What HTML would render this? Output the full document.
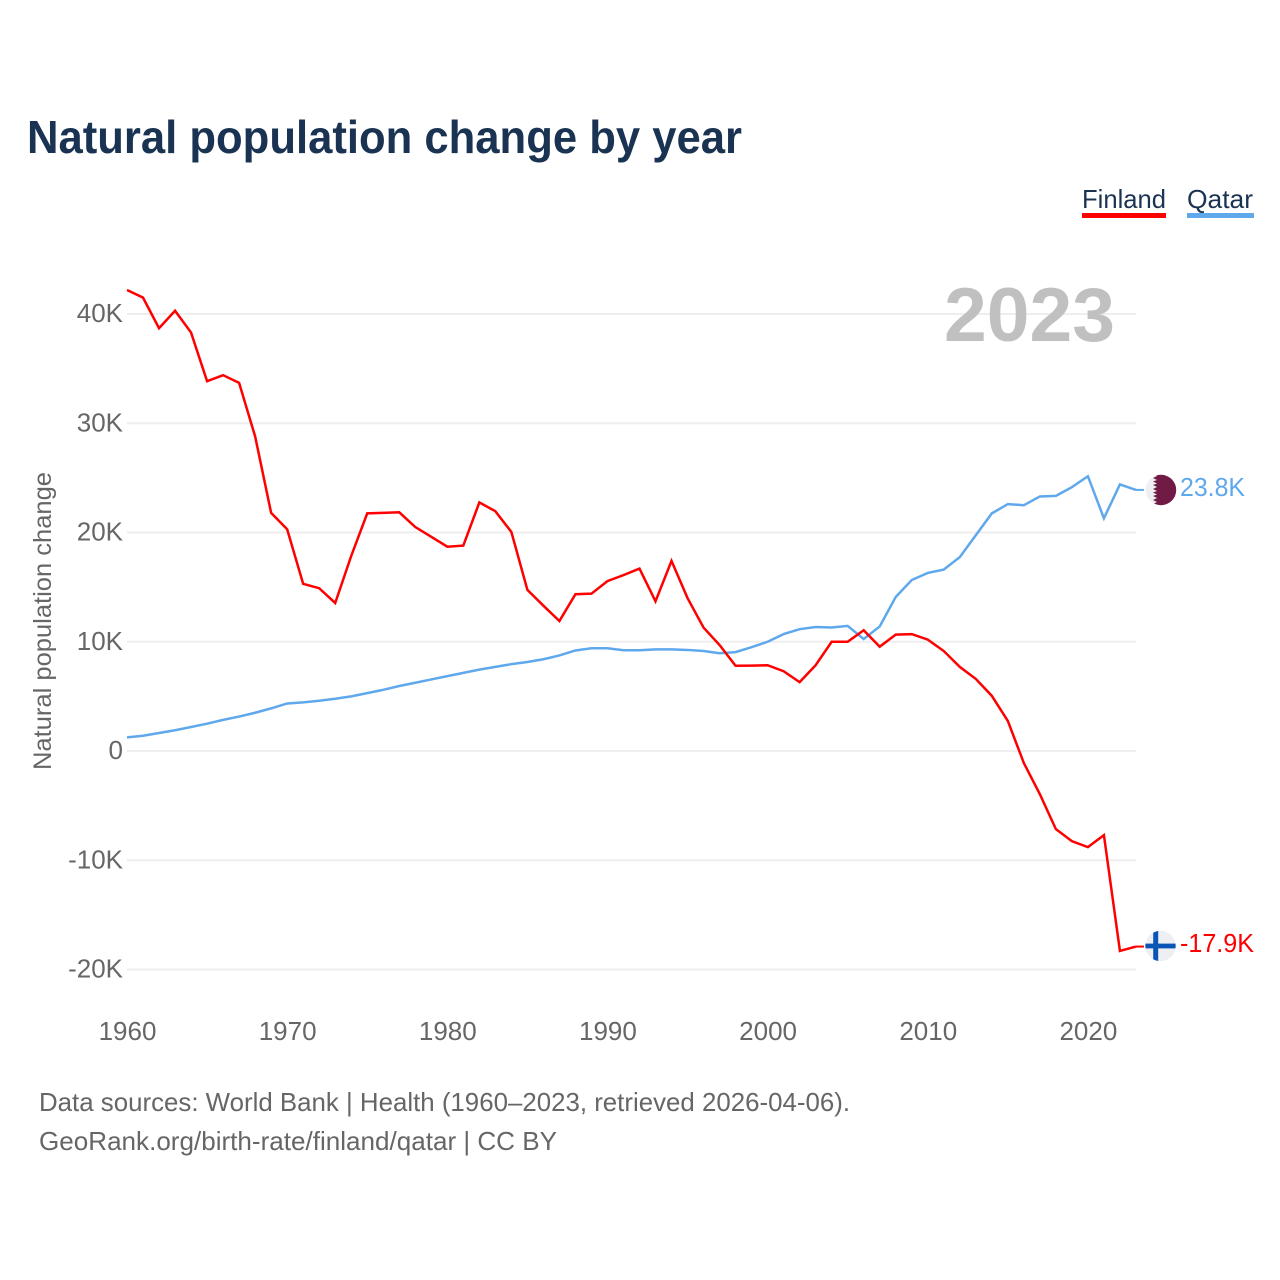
<!DOCTYPE html>
<html lang="en">
<head>
<meta charset="utf-8">
<title>Natural population change by year</title>
<style>
html,body{margin:0;padding:0;background:#fff;width:1280px;height:1280px;overflow:hidden}
svg{display:block;font-family:"Liberation Sans",sans-serif}
</style>
</head>
<body>
<svg id="chart" xmlns="http://www.w3.org/2000/svg" width="1280" height="1280" viewBox="0 0 1280 1280">
  <defs>
    <clipPath id="clip-qatar"><circle id="clip-qatar-circle" cx="1161" cy="490" r="15.2"></circle></clipPath>
    <clipPath id="clip-finland"><circle id="clip-finland-circle" cx="1160.5" cy="946" r="15.2"></circle></clipPath>
  </defs>
  <rect x="0" y="0" width="1280" height="1280" fill="#ffffff"></rect>
  <text x="27" y="153" font-size="46" font-weight="700" fill="#1a3352" textLength="715" lengthAdjust="spacingAndGlyphs">Natural population change by year</text>

  <g>
    <text x="1082" y="208" font-size="26" fill="#1a3352" textLength="84" lengthAdjust="spacingAndGlyphs">Finland</text>
    <rect x="1082" y="213" width="84" height="5" fill="#ff0000"></rect>
  </g>
  <g>
    <text x="1187" y="208" font-size="26" fill="#1a3352" textLength="66" lengthAdjust="spacingAndGlyphs">Qatar</text>
    <rect x="1187" y="213" width="67" height="5" fill="#5fa8ec"></rect>
  </g>

  <g id="grid"></g>
  <text x="944" y="341" font-size="76" font-weight="700" fill="#c0c0c0" textLength="171" lengthAdjust="spacingAndGlyphs">2023</text>
  <g id="y-ticks"></g>
  <g id="x-ticks"></g>
  <text transform="translate(51 770) rotate(-90)" font-size="25" fill="#666666" textLength="298" lengthAdjust="spacingAndGlyphs">Natural population change</text>
  <g id="series"></g>

  <g clip-path="url(#clip-qatar)">
    <rect x="1145" y="474" width="32" height="32" fill="#eeeff2"></rect>
    <polygon fill="#721a46" points="1177,474 1153,474 1157,476 1153,478 1157,480 1153,481.5 1157,483.5 1153,485 1157,487 1153,489 1157,491 1153,492.5 1157,494.5 1153,496 1157,498 1153,500 1157,502 1153,504 1157,506 1177,506"></polygon>
  </g>
  <g clip-path="url(#clip-finland)">
    <rect x="1145" y="930" width="32" height="32" fill="#eeeff2"></rect>
    <rect x="1153.2" y="930" width="5" height="32" fill="#0b56b5"></rect>
    <rect x="1145" y="943.6" width="32" height="4.8" fill="#0b56b5"></rect>
  </g>

  <text x="1180" y="496" font-size="26" fill="#5fa8ec" textLength="65" lengthAdjust="spacingAndGlyphs">23.8K</text>
  <text x="1180" y="952" font-size="26" fill="#ff0000" textLength="74" lengthAdjust="spacingAndGlyphs">-17.9K</text>

  <text x="39" y="1111" font-size="26" fill="#666666" textLength="811" lengthAdjust="spacingAndGlyphs">Data sources: World Bank | Health (1960–2023, retrieved 2026-04-06).</text>
  <text x="39" y="1150" font-size="26" fill="#666666" textLength="518" lengthAdjust="spacingAndGlyphs">GeoRank.org/birth-rate/finland/qatar | CC BY</text>
</svg>
<script>
const startYear = 1960;
const finlandValues = [42.2,41.5,38.7,40.3,38.3,33.85,34.4,33.7,28.8,21.8,20.3,15.3,14.9,13.55,17.85,21.75,21.8,21.85,20.5,19.6,18.7,18.8,22.75,21.95,20.05,14.75,13.3,11.9,14.35,14.4,15.55,16.1,16.7,13.7,17.4,14,11.3,9.7,7.8,7.82,7.85,7.3,6.3,7.85,10,10,11.05,9.55,10.65,10.7,10.2,9.15,7.7,6.6,5.05,2.75,-1.1,-3.95,-7.15,-8.25,-8.8,-7.7,-18.3,-17.9];
const qatarValues = [1.25,1.4,1.65,1.9,2.2,2.5,2.85,3.15,3.5,3.9,4.35,4.45,4.6,4.78,5,5.3,5.6,5.95,6.25,6.55,6.85,7.15,7.45,7.7,7.95,8.15,8.4,8.75,9.2,9.4,9.4,9.22,9.22,9.3,9.3,9.25,9.15,8.95,9.05,9.5,10,10.7,11.15,11.35,11.3,11.45,10.25,11.4,14.1,15.65,16.3,16.6,17.75,19.75,21.75,22.6,22.5,23.3,23.35,24.15,25.15,21.3,24.4,23.9];
const yTickValues = [-20,-10,0,10,20,30,40];
const yTickLabels = ["-20K","-10K","0","10K","20K","30K","40K"];
const xTickYears = [1960,1970,1980,1990,2000,2010,2020];

const NS = "http://www.w3.org/2000/svg";
function xScale(year) { return 127 + (year - 1960) * 16.015; }
function yScale(value) { return 751 - value * 10.925; }
function make(tag, parent, attrs) {
  const el = document.createElementNS(NS, tag);
  Object.keys(attrs).forEach(function (k) { el.setAttribute(k, attrs[k]); });
  parent.appendChild(el);
  return el;
}

const grid = document.getElementById("grid");
const yTicks = document.getElementById("y-ticks");
const xTicks = document.getElementById("x-ticks");
const series = document.getElementById("series");

yTickValues.forEach(function (v, i) {
  const line = make("line", grid, {x1: 127, x2: 1136, y1: yScale(v), y2: yScale(v), stroke: "#eeeeee", "stroke-width": 2});
  
  
  const label = make("text", yTicks, {x: 123, y: yScale(v) + 8, "font-size": 26, fill: "#666666", "text-anchor": "end"});
  
  
  label.textContent = yTickLabels[i];
});

xTickYears.forEach(function (yr) {
  const label = make("text", xTicks, {x: xScale(yr) + 0.5, y: 1040, "font-size": 26, fill: "#666666", "text-anchor": "middle"});
  
  
  label.textContent = String(yr);
});

function drawSeries(values, color, name) {
  const pts = values.map(function (v, i) { return xScale(startYear + i).toFixed(2) + "," + yScale(v).toFixed(2); }).join(" ");
  const line = make("polyline", series, {points: pts, fill: "none", stroke: color, "stroke-width": 2.5, "stroke-linejoin": "miter"});
  
  
  const last = values[values.length - 1];
  const lastX = xScale(startYear + values.length - 1);
  const connector = make("line", series, {x1: lastX, x2: lastX + 8, y1: yScale(last), y2: yScale(last), stroke: color, "stroke-width": 2});
  
  
}
drawSeries(qatarValues, "#5fa8ec", "series-line-qatar");
drawSeries(finlandValues, "#ff0000", "series-line-finland");
</script>
</body>
</html>
